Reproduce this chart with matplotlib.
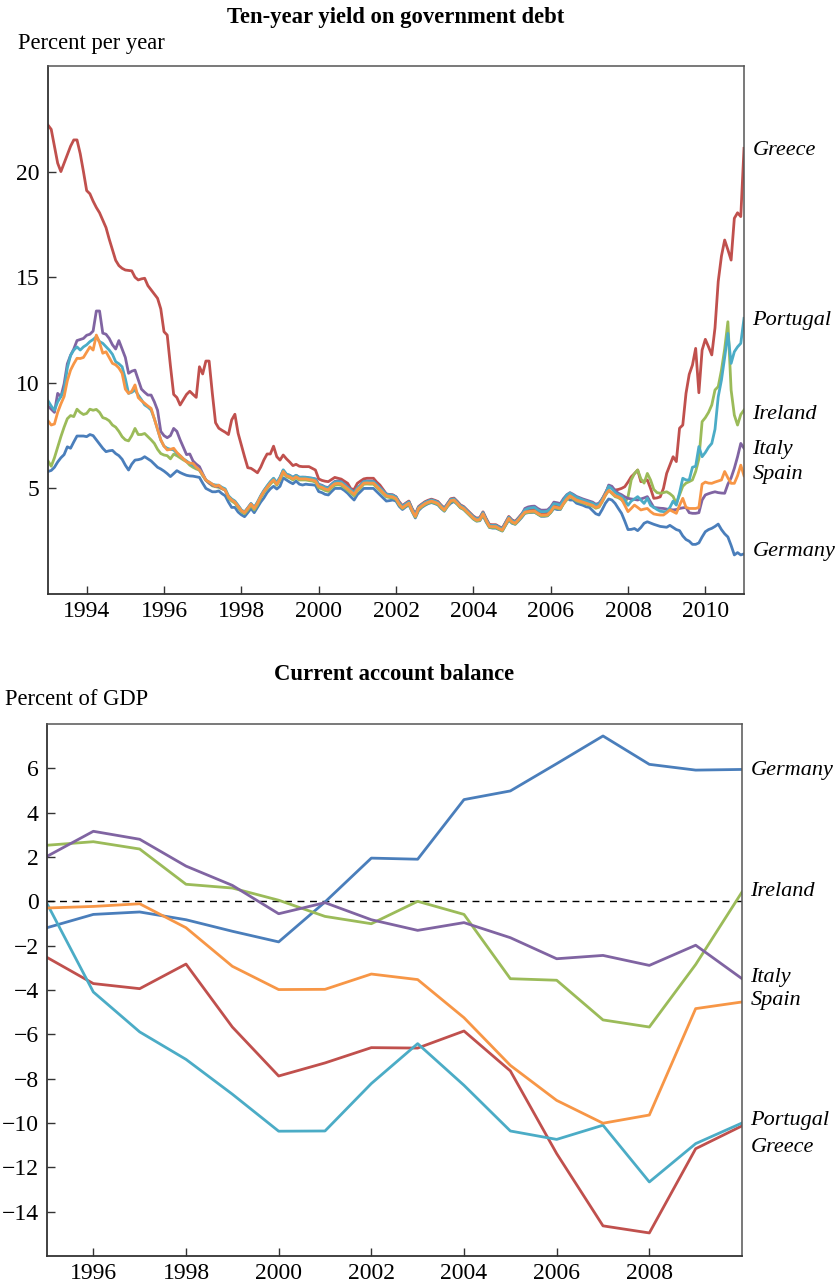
import numpy as np
import pandas as pd
import matplotlib
matplotlib.use("Agg")
import matplotlib.pyplot as plt
import matplotlib.transforms as mtransforms

# ---------------------------------------------------------------
# data: ten-year government bond yields, monthly Jan 1993 - Jan 2011
# ---------------------------------------------------------------
yield_germany = [
    5.8, 5.85, 6.0, 6.25, 6.45, 6.6, 6.97, 6.9, 7.2, 7.48, 7.48, 7.48,
    7.45, 7.55, 7.5, 7.3, 7.1, 6.9, 6.74, 6.78, 6.8, 6.65, 6.55, 6.38,
    6.1, 5.87, 6.15, 6.34, 6.36, 6.4, 6.5, 6.4, 6.3, 6.15, 6.0, 5.92,
    5.82, 5.7, 5.56, 5.7, 5.84, 5.75, 5.68, 5.62, 5.59, 5.58, 5.55, 5.52,
    5.25, 5.0, 4.92, 4.84, 4.84, 4.88, 4.75, 4.65, 4.35, 4.1, 4.1, 3.88,
    3.75, 3.66, 3.85, 4.05, 3.85, 4.1, 4.35, 4.55, 4.8, 4.98, 5.1, 4.97,
    5.1, 5.5, 5.4, 5.3, 5.22, 5.35, 5.2, 5.16, 5.2, 5.18, 5.17, 5.15,
    4.85, 4.8, 4.72, 4.69, 4.85, 5.0, 5.0, 5.0, 4.9, 4.77, 4.6, 4.45,
    4.7, 4.85, 5.0, 5.0, 5.0, 5.0, 4.85, 4.7, 4.55, 4.4, 4.42, 4.45,
    4.4, 4.15, 4.0, 4.12, 4.22, 3.9, 3.6, 3.95, 4.1, 4.2, 4.28, 4.33,
    4.28, 4.22, 4.05, 3.92, 4.15, 4.3, 4.38, 4.25, 4.08, 4.0, 3.85, 3.7,
    3.55, 3.45, 3.47, 3.72, 3.4, 3.15, 3.12, 3.12, 3.05, 2.98, 3.25, 3.5,
    3.35, 3.3, 3.45, 3.62, 3.82, 3.85, 3.86, 3.87, 3.78, 3.68, 3.68, 3.7,
    3.85, 4.05, 4.0, 4.0, 4.3, 4.55, 4.45, 4.45, 4.3, 4.25, 4.2, 4.13,
    4.1, 3.95, 3.8, 3.74, 4.0, 4.3, 4.5, 4.45, 4.29, 4.05, 3.82, 3.45,
    3.05, 3.06, 3.1, 3.0, 3.15, 3.35, 3.42, 3.36, 3.3, 3.25, 3.2, 3.18,
    3.16, 3.25, 3.15, 3.05, 3.0, 2.75, 2.58, 2.5, 2.35, 2.35, 2.42, 2.7,
    2.95, 3.05, 3.11, 3.2, 3.31, 3.05, 2.85, 2.7, 2.3, 1.85, 1.96, 1.85,
    1.9]

yield_greece = [
    22.2, 22.0, 21.2, 20.4, 20.0, 20.4, 20.8, 21.2, 21.5, 21.5, 20.85, 20.0,
    19.1, 18.95, 18.6, 18.3, 18.05, 17.7, 17.35, 16.8, 16.3, 15.8, 15.55, 15.42,
    15.34, 15.32, 15.3, 15.0, 14.87, 14.92, 14.95, 14.6, 14.4, 14.2, 14.0, 13.5,
    12.42, 12.26, 10.8, 9.45, 9.3, 8.95, 9.2, 9.45, 9.6, 9.45, 9.31, 10.76,
    10.42, 11.03, 11.03, 9.5, 8.11, 7.85, 7.75, 7.66, 7.55, 8.24, 8.51, 7.61,
    7.05, 6.5, 5.98, 5.95, 5.85, 5.74, 6.0, 6.35, 6.63, 6.63, 7.0, 6.5,
    6.34, 6.58, 6.4, 6.25, 6.08, 6.14, 6.05, 6.03, 6.03, 6.03, 5.95, 5.87,
    5.45, 5.38, 5.34, 5.32, 5.42, 5.52, 5.48, 5.44, 5.34, 5.24, 4.98, 4.95,
    5.24, 5.35, 5.45, 5.48, 5.48, 5.48, 5.3, 5.16, 4.95, 4.73, 4.7, 4.69,
    4.6, 4.37, 4.18, 4.3, 4.4, 4.05, 3.78, 4.14, 4.26, 4.37, 4.44, 4.49,
    4.44, 4.38, 4.21, 4.07, 4.29, 4.51, 4.54, 4.39, 4.22, 4.14, 3.99, 3.84,
    3.69, 3.59, 3.62, 3.89, 3.57, 3.29, 3.28, 3.28, 3.19, 3.12, 3.39, 3.67,
    3.51, 3.44, 3.61, 3.79, 3.97, 3.99, 4.01, 4.02, 3.91, 3.83, 3.83, 3.84,
    3.99, 4.22, 4.19, 4.15, 4.4, 4.6, 4.75, 4.65, 4.55, 4.5, 4.45, 4.4,
    4.35, 4.3, 4.2, 4.25, 4.5, 4.8, 5.08, 5.0, 4.92, 4.95, 5.0, 5.08,
    5.3, 5.55, 5.7, 5.87, 5.32, 5.35, 5.4, 5.0, 4.53, 4.55, 4.6, 5.0,
    5.71, 6.1, 6.5, 6.27, 7.85, 8.0, 9.5, 10.4, 10.84, 11.63, 9.53, 11.55,
    12.06, 11.7, 11.32, 12.6, 14.8, 16.0, 16.76, 16.3, 15.81, 17.79, 18.05, 17.87,
    21.1]

yield_ireland = [
    6.3, 6.05, 6.45, 6.95, 7.45, 7.9, 8.3, 8.45, 8.4, 8.75, 8.6, 8.5,
    8.55, 8.75, 8.7, 8.74, 8.6, 8.35, 8.3, 8.2, 8.0, 7.9, 7.7, 7.45,
    7.3, 7.25, 7.5, 7.84, 7.55, 7.55, 7.6, 7.45, 7.3, 7.13, 6.85, 6.65,
    6.58, 6.55, 6.4, 6.62, 6.55, 6.45, 6.35, 6.26, 6.1, 6.0, 5.92, 5.87,
    5.6, 5.39, 5.25, 5.12, 5.08, 5.05, 4.98, 4.92, 4.55, 4.4, 4.3, 4.1,
    3.9, 3.8, 3.98, 4.2, 3.98, 4.22, 4.55, 4.8, 5.0, 5.2, 5.36, 5.15,
    5.4, 5.74, 5.55, 5.5, 5.4, 5.5, 5.4, 5.4, 5.4, 5.37, 5.35, 5.3,
    5.03, 4.98, 4.9, 4.86, 5.03, 5.15, 5.17, 5.15, 5.03, 4.91, 4.78, 4.65,
    4.88, 5.02, 5.2, 5.21, 5.2, 5.2, 5.05, 4.9, 4.75, 4.6, 4.57, 4.55,
    4.48, 4.21, 4.05, 4.16, 4.26, 3.92, 3.64, 4.01, 4.13, 4.24, 4.31, 4.36,
    4.31, 4.25, 4.08, 3.94, 4.16, 4.38, 4.41, 4.26, 4.09, 4.01, 3.86, 3.71,
    3.56, 3.46, 3.49, 3.76, 3.44, 3.16, 3.15, 3.15, 3.06, 2.99, 3.26, 3.54,
    3.38, 3.31, 3.48, 3.66, 3.84, 3.86, 3.88, 3.89, 3.78, 3.7, 3.7, 3.71,
    3.86, 4.09, 4.06, 4.02, 4.26, 4.46, 4.61, 4.51, 4.41, 4.36, 4.31, 4.26,
    4.21, 4.16, 4.06, 4.11, 4.36, 4.66, 4.91, 4.76, 4.61, 4.56, 4.46, 4.3,
    4.6, 5.4, 5.7, 5.87, 5.45, 5.25, 5.71, 5.4, 4.95, 4.8, 4.77, 4.8,
    4.84, 4.75, 4.62, 4.29, 4.7, 5.1, 5.25, 5.32, 5.4, 5.8, 6.4, 8.16,
    8.35, 8.6, 8.95, 9.66, 9.82, 10.6, 11.6, 12.89, 9.66, 8.47, 8.0, 8.5,
    8.71]

yield_italy = [
    8.9, 8.75, 8.6, 9.5, 9.34, 9.95, 10.9, 11.3, 11.6, 12.0, 12.05, 12.1,
    12.25, 12.3, 12.45, 13.4, 13.4, 12.35, 12.3, 12.1, 11.8, 11.6, 12.0, 11.6,
    11.2, 10.45, 10.55, 10.6, 10.15, 9.7, 9.55, 9.42, 9.42, 9.1, 8.7, 7.7,
    7.5, 7.4, 7.5, 7.84, 7.7, 7.3, 6.95, 6.6, 6.63, 6.3, 6.15, 6.03,
    5.7, 5.39, 5.25, 5.16, 5.1, 5.1, 5.0, 4.92, 4.62, 4.47, 4.38, 4.17,
    3.97, 3.87, 4.07, 4.28, 4.08, 4.33, 4.63, 4.89, 5.1, 5.3, 5.46, 5.26,
    5.52, 5.85, 5.66, 5.62, 5.52, 5.62, 5.52, 5.53, 5.53, 5.5, 5.48, 5.45,
    5.2, 5.15, 5.07, 5.04, 5.2, 5.33, 5.35, 5.33, 5.2, 5.08, 4.95, 4.82,
    5.03, 5.16, 5.33, 5.35, 5.34, 5.34, 5.2, 5.05, 4.9, 4.74, 4.71, 4.69,
    4.6, 4.33, 4.15, 4.27, 4.37, 4.02, 3.75, 4.11, 4.23, 4.34, 4.41, 4.46,
    4.41, 4.35, 4.18, 4.04, 4.26, 4.48, 4.51, 4.36, 4.19, 4.11, 3.96, 3.81,
    3.66, 3.56, 3.59, 3.86, 3.54, 3.26, 3.25, 3.25, 3.16, 3.09, 3.36, 3.64,
    3.48, 3.41, 3.58, 3.76, 4.05, 4.12, 4.15, 4.16, 4.05, 3.97, 3.97, 3.98,
    4.12, 4.35, 4.32, 4.28, 4.52, 4.7, 4.8, 4.72, 4.62, 4.56, 4.5, 4.45,
    4.4, 4.35, 4.25, 4.3, 4.5, 4.72, 5.16, 5.1, 4.9, 4.77, 4.7, 4.6,
    4.53, 4.5, 4.48, 4.45, 4.5, 4.55, 4.61, 4.35, 4.1, 4.08, 4.06, 4.05,
    4.02, 4.0, 3.98, 4.0, 4.05, 4.08, 4.1, 3.85, 3.82, 3.82, 3.85, 4.45,
    4.69, 4.75, 4.8, 4.84, 4.8, 4.78, 4.77, 5.2, 5.5, 5.95, 6.5, 7.13,
    6.9]

yield_portugal = [
    9.15, 8.9, 8.7, 9.1, 9.35, 9.66, 10.7, 11.3, 11.55, 11.7, 11.55, 11.7,
    11.8, 11.95, 12.05, 12.18, 11.95, 11.87, 11.71, 11.55, 11.35, 11.0, 10.9, 10.76,
    10.2, 9.5, 9.55, 9.66, 9.42, 9.2, 8.95, 8.85, 8.71, 8.3, 7.8, 7.29,
    7.0, 6.9, 6.85, 6.82, 6.66, 6.55, 6.4, 6.3, 6.18, 6.1, 5.98, 5.87,
    5.65, 5.39, 5.3, 5.2, 5.16, 5.15, 5.05, 4.98, 4.65, 4.5, 4.4, 4.2,
    3.98, 3.88, 4.08, 4.28, 4.1, 4.35, 4.65, 4.9, 5.12, 5.32, 5.48, 5.28,
    5.52, 5.88, 5.68, 5.62, 5.52, 5.62, 5.53, 5.53, 5.52, 5.5, 5.48, 5.43,
    5.17, 5.12, 5.05, 5.0, 5.17, 5.3, 5.32, 5.3, 5.17, 5.05, 4.92, 4.8,
    5.02, 5.15, 5.32, 5.33, 5.32, 5.32, 5.17, 5.02, 4.87, 4.72, 4.69, 4.67,
    4.58, 4.31, 4.14, 4.26, 4.36, 4.01, 3.74, 4.1, 4.22, 4.33, 4.4, 4.45,
    4.4, 4.34, 4.17, 4.03, 4.25, 4.47, 4.5, 4.35, 4.18, 4.1, 3.95, 3.8,
    3.65, 3.55, 3.58, 3.85, 3.53, 3.25, 3.24, 3.24, 3.15, 3.08, 3.35, 3.63,
    3.47, 3.4, 3.57, 3.75, 3.98, 4.05, 4.08, 4.1, 3.98, 3.9, 3.9, 3.92,
    4.05, 4.28, 4.25, 4.2, 4.45, 4.68, 4.78, 4.68, 4.58, 4.52, 4.45, 4.4,
    4.35, 4.3, 4.2, 4.25, 4.48, 4.75, 5.1, 4.98, 4.8, 4.7, 4.62, 4.45,
    4.2, 4.4, 4.5, 4.61, 4.45, 4.29, 4.53, 4.2, 4.1, 4.0, 3.92, 3.9,
    3.9, 4.1, 4.4, 4.21, 4.8, 5.48, 5.4, 5.4, 6.0, 6.05, 6.98, 6.5,
    6.7, 6.95, 7.13, 7.8, 9.34, 10.13, 11.2, 12.34, 10.92, 11.47, 11.7, 11.87,
    13.05]

yield_spain = [
    8.2, 8.0, 8.05, 8.6, 9.0, 9.35, 10.1, 10.6, 10.9, 11.16, 11.15, 11.2,
    11.45, 11.7, 11.55, 12.26, 11.9, 11.4, 11.47, 11.2, 10.92, 10.85, 10.7, 10.45,
    9.7, 9.5, 9.6, 9.9, 9.3, 9.15, 9.03, 8.9, 8.79, 8.3, 7.8, 7.3,
    7.0, 6.82, 6.85, 6.9, 6.7, 6.55, 6.4, 6.26, 6.2, 6.18, 6.0, 5.87,
    5.65, 5.39, 5.3, 5.2, 5.1, 5.15, 5.0, 4.92, 4.6, 4.45, 4.35, 4.15,
    3.95, 3.85, 4.05, 4.25, 4.05, 4.3, 4.6, 4.85, 5.05, 5.25, 5.4, 5.2,
    5.45, 5.8, 5.6, 5.55, 5.45, 5.55, 5.45, 5.45, 5.45, 5.42, 5.4, 5.35,
    5.1, 5.05, 4.97, 4.93, 5.1, 5.22, 5.24, 5.22, 5.1, 4.98, 4.85, 4.72,
    4.95, 5.08, 5.25, 5.26, 5.25, 5.25, 5.1, 4.95, 4.8, 4.65, 4.62, 4.6,
    4.52, 4.25, 4.08, 4.2, 4.3, 3.95, 3.68, 4.05, 4.17, 4.28, 4.35, 4.4,
    4.35, 4.29, 4.12, 3.98, 4.2, 4.42, 4.45, 4.3, 4.13, 4.05, 3.9, 3.75,
    3.6, 3.5, 3.53, 3.8, 3.48, 3.2, 3.19, 3.19, 3.1, 3.03, 3.3, 3.58,
    3.42, 3.35, 3.52, 3.7, 3.88, 3.9, 3.92, 3.93, 3.82, 3.74, 3.74, 3.75,
    3.9, 4.13, 4.1, 4.06, 4.3, 4.5, 4.65, 4.55, 4.45, 4.4, 4.35, 4.3,
    4.25, 4.2, 4.1, 4.15, 4.4, 4.7, 4.9, 4.8, 4.65, 4.6, 4.5, 4.2,
    3.9, 4.05, 4.21, 4.1, 3.98, 4.02, 4.05, 3.9, 3.79, 3.76, 3.74, 3.74,
    3.85, 3.98, 3.9, 3.82, 4.2, 4.53, 4.1, 4.05, 4.05, 4.05, 4.1, 5.2,
    5.3, 5.25, 5.24, 5.3, 5.35, 5.4, 5.8, 5.5, 5.24, 5.24, 5.6, 6.1,
    5.6]

# ---------------------------------------------------------------
# data: current account balance, percent of GDP, 1995-2010
# ---------------------------------------------------------------
ca_years = list(range(1995, 2011))
ca_germany = [-1.19, -0.59, -0.48, -0.83, -1.35, -1.83, -0.03, 1.95,
              1.9, 4.59, 4.98, 6.21, 7.46, 6.18, 5.92, 5.95]
ca_greece = [-2.53, -3.71, -3.94, -2.83, -5.67, -7.88, -7.29, -6.6,
             -6.62, -5.85, -7.65, -11.38, -14.64, -14.96, -11.16, -10.13]
ca_ireland = [2.53, 2.69, 2.36, 0.77, 0.6, 0.05, -0.68, -1.01,
              0.0, -0.59, -3.49, -3.56, -5.35, -5.67, -2.85, 0.42]
ca_italy = [2.03, 3.16, 2.8, 1.59, 0.72, -0.56, -0.06, -0.83,
            -1.31, -0.96, -1.64, -2.59, -2.44, -2.89, -1.98, -3.49]
ca_portugal = [-0.1, -4.09, -5.89, -7.13, -8.7, -10.37, -10.36, -8.22,
               -6.42, -8.3, -10.36, -10.74, -10.1, -12.66, -10.93, -10.0]
ca_spain = [-0.3, -0.23, -0.11, -1.19, -2.93, -3.98, -3.97, -3.28,
            -3.53, -5.25, -7.4, -8.98, -10.01, -9.64, -4.84, -4.54]

countries = ["Germany", "Greece", "Ireland", "Italy", "Portugal", "Spain"]
colors = ["#4a7ebb", "#c0504d", "#9bbb59", "#8064a2", "#4bacc6", "#f79646"]

yields = [yield_germany, yield_greece, yield_ireland,
          yield_italy, yield_portugal, yield_spain]
balances = [ca_germany, ca_greece, ca_ireland,
            ca_italy, ca_portugal, ca_spain]

# label heights at the right edge
yield_label_y = {"Greece": 20.98, "Portugal": 12.97, "Ireland": 8.52,
                 "Italy": 6.86, "Spain": 5.68, "Germany": 1.99}
ca_label_y = {"Germany": 5.91, "Ireland": 0.45, "Italy": -3.43,
              "Spain": -4.47, "Portugal": -9.88, "Greece": -11.1}

dates = pd.date_range("1993-01-01", "2011-01-01", freq="MS")
t = dates.year + (dates.month - 1) / 12.0

# ---------------------------------------------------------------
plt.rcParams["font.family"] = ["Liberation Serif", "DejaVu Serif"]

fig = plt.figure(figsize=(8.4, 12.85), dpi=100)
W, H = 840.0, 1285.0

ax1 = fig.add_axes([48 / W, 1 - 594 / H, 696 / W, 528 / H])
ax2 = fig.add_axes([47 / W, 1 - 1256 / H, 695 / W, 532 / H])


def style_axes(ax):
    for side in ["left", "bottom"]:
        ax.spines[side].set_color("#333333")
        ax.spines[side].set_linewidth(1.3)
    for side in ["top", "right"]:
        ax.spines[side].set_color("#555555")
        ax.spines[side].set_linewidth(1.1)
    ax.tick_params(axis="both", direction="in", length=6, width=1.0,
                   color="#333333", labelsize=17, pad=6,
                   top=False, right=False)
    ax.tick_params(axis="x", pad=5)


# top panel
for name, c, vals in zip(countries, colors, yields):
    ax1.plot(t, vals, color=c, lw=2.0, solid_joinstyle="round")
ax1.set_xlim(1993, 2011)
ax1.set_ylim(0, 25)
ax1.set_xticks(range(1994, 2011, 2))
ax1.set_yticks([5, 10, 15, 20])
style_axes(ax1)
trans1 = mtransforms.blended_transform_factory(ax1.transAxes, ax1.transData)
for name, yv in yield_label_y.items():
    ax1.text(1.012, yv, name, transform=trans1, fontsize=16,
             style="italic", va="center", ha="left")

fig.text(396 / W, 1 - 18 / H, "Ten-year yield on government debt",
         fontsize=16.3, fontweight="bold", ha="center", va="center")
fig.text(18 / W, 1 - 43 / H, "Percent per year", fontsize=16.3,
         ha="left", va="center")

# bottom panel
ax2.axhline(0, color="black", lw=1.0, ls=(0, (5, 4)))
for name, c, vals in zip(countries, colors, balances):
    ax2.plot(ca_years, vals, color=c, lw=2.0, solid_joinstyle="round")
ax2.set_xlim(1995, 2010)
ax2.set_ylim(-16, 8)
ax2.set_xticks(range(1996, 2009, 2))
ax2.set_yticks(range(-14, 7, 2))
ax2.set_yticklabels([str(v).replace("-", "\u2212") for v in range(-14, 7, 2)])
style_axes(ax2)
trans2 = mtransforms.blended_transform_factory(ax2.transAxes, ax2.transData)
for name, yv in ca_label_y.items():
    ax2.text(1.012, yv, name, transform=trans2, fontsize=16,
             style="italic", va="center", ha="left")

fig.text(394 / W, 1 - 675 / H, "Current account balance",
         fontsize=16.3, fontweight="bold", ha="center", va="center")
fig.text(5 / W, 1 - 700 / H, "Percent of GDP", fontsize=16.3,
         ha="left", va="center")

fig.savefig("out.png", dpi=100)
